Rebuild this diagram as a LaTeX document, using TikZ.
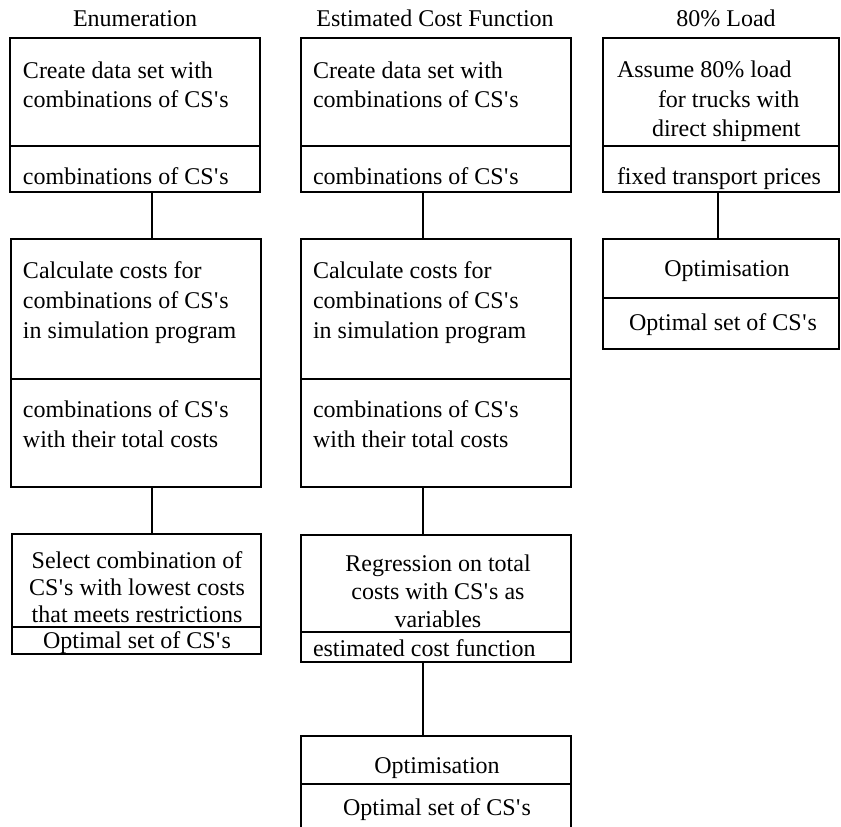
\documentclass[tikz,border=0pt]{standalone}
\usepackage{fontspec}
\setmainfont{Liberation Serif}
\newcommand{\csq}{CS\kern0.5pt\textquotesingle\kern1pt s}
\begin{document}
\begin{tikzpicture}[x=1pt,y=-1pt,
  sec/.style={draw, line width=1.6pt, rectangle, inner sep=0pt, outer sep=0pt, anchor=north west},
  txt/.style={inner sep=0pt, outer sep=0pt, font=\fontsize{24}{29.5}\selectfont},
  lt/.style={txt, anchor=base west},
  ct/.style={txt, anchor=base},
  conn/.style={line width=1.6pt}]
\useasboundingbox (0,0) rectangle (841,827);
\fill[white] (0,0) rectangle (841,827);
% connector columns
\coordinate (cx1) at (152,0);
\coordinate (cx2) at (423,0);
\coordinate (cx3) at (718,0);
% titles
\node[ct] (ttl1) at (135,27) {Enumeration};
\node[ct] (ttl2) at (435,27) {Estimated Cost Function};
\node[ct] (ttl3) at (726,27) {80\% Load};
% ---------- column 1 ----------
\node[sec, minimum width=250, minimum height=108] (a1u) at (10,38) {};
\node[sec, minimum width=250, minimum height=46] (a1l) at (10,146) {};
\node[sec, minimum width=250, minimum height=140] (a2u) at (11,239) {};
\node[sec, minimum width=250, minimum height=108] (a2l) at (11,379) {};
\node[sec, minimum width=249, minimum height=93] (a3u) at (12,534) {};
\node[sec, minimum width=249, minimum height=27] (a3l) at (12,627) {};
\node[lt] (a1t1) at (23,78) {Create data set with};
\node[lt] (a1t2) at (23,107) {combinations of \csq};
\node[lt] (a1t3) at (23,184) {combinations of \csq};
\node[lt] (a2t1) at (23,278) {Calculate costs for};
\node[lt] (a2t2) at (23,308) {combinations of \csq};
\node[lt] (a2t3) at (23,338) {in simulation program};
\node[lt] (a2t4) at (23,417) {combinations of \csq};
\node[lt] (a2t5) at (23,447) {with their total costs};
\node[ct] (a3t1) at (137,568) {Select combination of};
\node[ct] (a3t2) at (137,595) {\csq{} with lowest costs};
\node[ct] (a3t3) at (137,622) {that meets restrictions};
\node[ct] (a3t4) at (137,648) {Optimal set of \csq};
\draw[conn] (a1l.south -| cx1) -- (a2u.north -| cx1);
\draw[conn] (a2l.south -| cx1) -- (a3u.north -| cx1);
% ---------- column 2 ----------
\node[sec, minimum width=270, minimum height=108] (b1u) at (301,38) {};
\node[sec, minimum width=270, minimum height=46] (b1l) at (301,146) {};
\node[sec, minimum width=270, minimum height=140] (b2u) at (301,239) {};
\node[sec, minimum width=270, minimum height=108] (b2l) at (301,379) {};
\node[sec, minimum width=270, minimum height=97] (b3u) at (301,535) {};
\node[sec, minimum width=270, minimum height=30] (b3l) at (301,632) {};
\node[sec, minimum width=270, minimum height=48] (b4u) at (301,736) {};
\node[inner sep=0pt, outer sep=0pt, anchor=north west, minimum width=270, minimum height=50] (b4l) at (301,784) {};
\draw[conn] (b4l.north west) -- (b4l.south west);
\draw[conn] (b4l.north east) -- (b4l.south east);
\node[lt] (b1t1) at (313,78) {Create data set with};
\node[lt] (b1t2) at (313,107) {combinations of \csq};
\node[lt] (b1t3) at (313,184) {combinations of \csq};
\node[lt] (b2t1) at (313,278) {Calculate costs for};
\node[lt] (b2t2) at (313,308) {combinations of \csq};
\node[lt] (b2t3) at (313,338) {in simulation program};
\node[lt] (b2t4) at (313,417) {combinations of \csq};
\node[lt] (b2t5) at (313,447) {with their total costs};
\node[ct] (b3t1) at (438,571) {Regression on total};
\node[ct] (b3t2) at (438,599) {costs with \csq{} as};
\node[ct] (b3t3) at (438,627) {variables};
\node[lt] (b3t4) at (313,656) {estimated cost function};
\node[ct] (b4t1) at (437,773) {Optimisation};
\node[ct] (b4t2) at (437,815) {Optimal set of \csq};
\draw[conn] (b1l.south -| cx2) -- (b2u.north -| cx2);
\draw[conn] (b2l.south -| cx2) -- (b3u.north -| cx2);
\draw[conn] (b3l.south -| cx2) -- (b4u.north -| cx2);
% ---------- column 3 ----------
\node[sec, minimum width=236, minimum height=108] (c1u) at (603,38) {};
\node[sec, minimum width=236, minimum height=46] (c1l) at (603,146) {};
\node[sec, minimum width=236, minimum height=59] (c2u) at (603,239) {};
\node[sec, minimum width=236, minimum height=51] (c2l) at (603,298) {};
\node[lt] (c1t1) at (617,77) {Assume 80\% load};
\node[lt] (c1t2) at (658,107) {for trucks with};
\node[lt] (c1t3) at (652,136) {direct shipment};
\node[lt] (c1t4) at (617,184) {fixed transport prices};
\node[ct] (c2t1) at (727,276) {Optimisation};
\node[ct] (c2t2) at (723,330) {Optimal set of \csq};
\draw[conn] (c1l.south -| cx3) -- (c2u.north -| cx3);
\end{tikzpicture}
\end{document}
